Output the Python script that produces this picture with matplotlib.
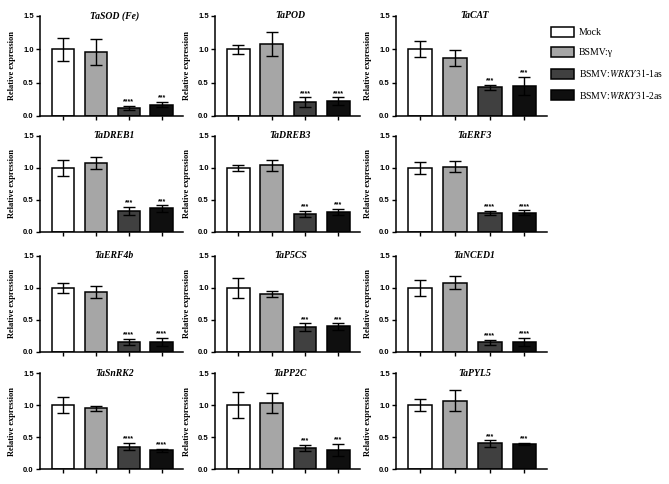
import matplotlib
matplotlib.use("Agg")
import matplotlib.pyplot as plt
from matplotlib.patches import Patch
import numpy as np

plt.rcParams['mathtext.fontset'] = 'stix'

genes = ["TaSOD (Fe)", "TaPOD", "TaCAT",
         "TaDREB1", "TaDREB3", "TaERF3",
         "TaERF4b", "TaP5CS", "TaNCED1",
         "TaSnRK2", "TaPP2C", "TaPYL5"]
groups = ["Mock", "BSMV:γ", "BSMV:WRKY31-1as", "BSMV:WRKY31-2as"]

means = [
    [1.00, 0.96, 0.12, 0.17],
    [1.00, 1.08, 0.21, 0.22],
    [1.00, 0.87, 0.43, 0.45],
    [1.00, 1.08, 0.33, 0.37],
    [1.00, 1.04, 0.28, 0.31],
    [1.00, 1.02, 0.30, 0.30],
    [1.00, 0.94, 0.16, 0.16],
    [1.00, 0.91, 0.39, 0.40],
    [1.00, 1.08, 0.15, 0.16],
    [1.00, 0.95, 0.35, 0.29],
    [1.00, 1.03, 0.33, 0.30],
    [1.00, 1.07, 0.40, 0.39],
]
errors = [
    [0.17, 0.19, 0.035, 0.04],
    [0.07, 0.18, 0.07, 0.06],
    [0.12, 0.12, 0.04, 0.14],
    [0.13, 0.09, 0.06, 0.05],
    [0.05, 0.08, 0.05, 0.05],
    [0.09, 0.09, 0.03, 0.04],
    [0.08, 0.09, 0.05, 0.06],
    [0.16, 0.05, 0.06, 0.05],
    [0.12, 0.10, 0.04, 0.06],
    [0.13, 0.04, 0.06, 0.03],
    [0.20, 0.16, 0.05, 0.09],
    [0.10, 0.17, 0.05, 0.02],
]
stars = [
    ["****", "***"], ["****", "****"], ["***", "***"],
    ["***", "***"], ["***", "***"], ["****", "****"],
    ["****", "****"], ["***", "***"], ["****", "****"],
    ["****", "****"], ["***", "***"], ["***", "***"],
]
yticks = [0.0, 0.5, 1.0, 1.5]
ytick_labels = ["0.0", "0.5", "1.0", "1.5"]

colors = ["#ffffff", "#a6a6a6", "#404040", "#0f0f0f"]

W, H = 669, 484
fig = plt.figure(figsize=(W / 100, H / 100), dpi=100)

row_tops = [16, 136, 256, 373]
row_bots = [116, 232, 352, 469]
col_lefts = [40, 215, 396]
col_rights = [183, 360, 547]

serif = ["Liberation Serif", "DejaVu Serif"]
sans = ["Liberation Sans", "DejaVu Sans"]

for i, g in enumerate(genes):
    r, c = divmod(i, 3)
    l, rt = col_lefts[c], col_rights[c]
    t, b = row_tops[r], row_bots[r]
    ax = fig.add_axes([l / W, 1 - b / H, (rt - l) / W, (b - t) / H])
    x = np.arange(4)
    ax.bar(x, means[i], width=0.68, color=colors, edgecolor="black", linewidth=1.1, zorder=2)
    ax.errorbar(x, means[i], yerr=errors[i], fmt="none", ecolor="black",
                elinewidth=1.0, capsize=4.5, capthick=1.0, zorder=3)
    for k in (2, 3):
        ax.text(x[k], means[i][k] + errors[i][k] + 0.005, stars[i][k - 2],
                ha="center", va="bottom", fontsize=5, fontweight="bold",
                family=sans)
    ax.set_xlim(-0.7, 3.65)
    ax.set_ylim(0, 1.5)
    ax.set_yticks(yticks)
    ax.set_yticklabels(ytick_labels, fontsize=5.5, fontweight="bold", family=sans)
    ax.set_xticks(x)
    ax.set_xticklabels([])
    for s in ("top", "right"):
        ax.spines[s].set_visible(False)
    for s in ("left", "bottom"):
        ax.spines[s].set_linewidth(1.1)
    ax.tick_params(axis="both", direction="out", length=3, width=1.0, pad=1.5)
    ax.set_ylabel("Relative expression", fontsize=6, fontweight="bold",
                  family=serif, labelpad=5)
    ax.text(0.52, 1.0, g, transform=ax.transAxes, ha="center", va="center",
            fontsize=7, fontweight="bold", fontstyle="italic", family=serif)

labels = ["Mock", r"BSMV:γ", r"BSMV:$\mathit{WRKY31}$-1as",
          r"BSMV:$\mathit{WRKY31}$-2as"]
handles = [Patch(facecolor=colors[k], edgecolor="black", linewidth=1.1) for k in range(4)]
fig.legend(handles, labels, loc="upper left", bbox_to_anchor=(547 / W, 1 - 23 / H),
           frameon=False, prop={"family": serif, "size": 7},
           handlelength=2.4, handleheight=1.2, labelspacing=1.0, handletextpad=0.5,
           borderaxespad=0)

fig.savefig("out.png", dpi=100)
